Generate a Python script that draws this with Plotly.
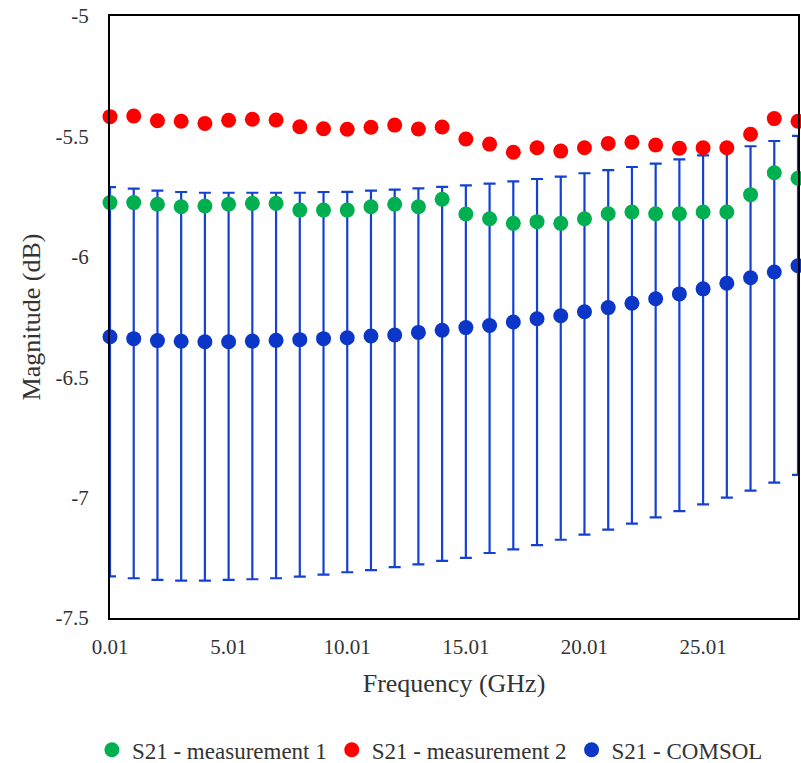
import plotly.graph_objects as go

# Frequency points (GHz)
freq = [0.01 + i for i in range(30)]

# S21 magnitudes (dB)
s21_meas1 = [-5.775, -5.775, -5.782, -5.792, -5.789, -5.782, -5.778, -5.778, -5.806, -5.806,
             -5.806, -5.792, -5.782, -5.792, -5.761, -5.822, -5.842, -5.861, -5.854, -5.861,
             -5.842, -5.821, -5.814, -5.821, -5.821, -5.814, -5.814, -5.742, -5.651, -5.674]
s21_meas2 = [-5.418, -5.415, -5.435, -5.437, -5.446, -5.433, -5.429, -5.432, -5.460, -5.468,
             -5.470, -5.462, -5.453, -5.469, -5.461, -5.511, -5.532, -5.566, -5.547, -5.561,
             -5.547, -5.529, -5.524, -5.536, -5.549, -5.547, -5.547, -5.491, -5.426, -5.437]
s21_comsol = [-6.332, -6.340, -6.348, -6.351, -6.353, -6.353, -6.350, -6.347, -6.344, -6.340,
              -6.336, -6.329, -6.325, -6.314, -6.305, -6.294, -6.285, -6.271, -6.257, -6.245,
              -6.228, -6.211, -6.193, -6.174, -6.154, -6.133, -6.110, -6.087, -6.063, -6.037]

# Simulation uncertainty (dB), upper and lower
comsol_err_plus = [0.621, 0.623, 0.623, 0.620, 0.619, 0.619, 0.616, 0.613, 0.610, 0.609,
                   0.606, 0.604, 0.604, 0.598, 0.595, 0.591, 0.589, 0.584, 0.580, 0.578,
                   0.575, 0.571, 0.566, 0.561, 0.559, 0.554, 0.551, 0.546, 0.544, 0.539]
comsol_err_minus = [0.995, 0.995, 0.994, 0.994, 0.992, 0.989, 0.989, 0.988, 0.984, 0.980,
                    0.974, 0.972, 0.964, 0.963, 0.958, 0.956, 0.945, 0.944, 0.940, 0.930,
                    0.926, 0.922, 0.915, 0.908, 0.902, 0.895, 0.890, 0.884, 0.875, 0.869]

x_tickvals = [0.01, 5.01, 10.01, 15.01, 20.01, 25.01]
x_ticktext = ["0.01", "5.01", "10.01", "15.01", "20.01", "25.01"]
y_tickvals = [-5, -5.5, -6, -6.5, -7, -7.5]
y_ticktext = ["-5", "-5.5", "-6", "-6.5", "-7", "-7.5"]

FONT = "Liberation Serif"
TXT = "#333333"

fig = go.Figure()

fig.add_trace(go.Scatter(
    x=freq, y=s21_comsol, mode="markers", name="S21 - COMSOL",
    marker=dict(color="#0B36C8", size=15),
    error_y=dict(type="data", array=comsol_err_plus, arrayminus=comsol_err_minus,
                 color="#1541D2", thickness=2.2, width=6),
    cliponaxis=False, legendrank=3,
))
fig.add_trace(go.Scatter(
    x=freq, y=s21_meas1, mode="markers", name="S21 - measurement 1",
    marker=dict(color="#00B050", size=15),
    cliponaxis=False, legendrank=1,
))
fig.add_trace(go.Scatter(
    x=freq, y=s21_meas2, mode="markers", name="S21 - measurement 2",
    marker=dict(color="#FF0000", size=15),
    cliponaxis=False, legendrank=2,
))

fig.update_layout(
    width=801, height=763,
    margin=dict(l=110, r=3, t=16, b=145, autoexpand=False),
    plot_bgcolor="white", paper_bgcolor="white",
    font=dict(family=FONT, size=21, color=TXT),
    showlegend=True,
    legend=dict(orientation="h", x=0.465, xanchor="center", y=-0.219, yanchor="middle",
                font=dict(size=23, color=TXT), itemwidth=30, traceorder="normal"),
)
fig.update_xaxes(
    range=[0.01, 29.01], tickvals=x_tickvals, ticktext=x_ticktext,
    showgrid=False, zeroline=False, showline=True, linecolor="black", linewidth=2,
    mirror=True, ticks="", tickfont=dict(size=21, color=TXT), ticklabelstandoff=9,
    automargin=False,
    title=dict(text="Frequency (GHz)", font=dict(size=26, color=TXT), standoff=16),
)
fig.update_yaxes(
    range=[-7.5, -5], tickvals=y_tickvals, ticktext=y_ticktext,
    showgrid=False, zeroline=False, showline=True, linecolor="black", linewidth=2,
    mirror=True, ticks="", tickfont=dict(size=21, color=TXT), ticklabelstandoff=15,
    automargin=False,
    title=dict(text="Magnitude (dB)", font=dict(size=26, color=TXT), standoff=7),
)

fig.write_html("out.html")
